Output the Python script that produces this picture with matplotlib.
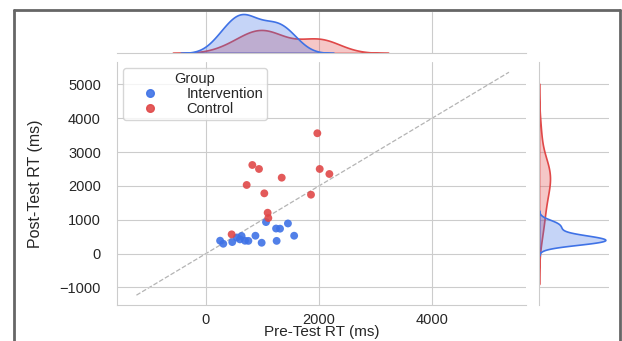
import matplotlib
matplotlib.use('Agg')
import matplotlib.pyplot as plt
from matplotlib.lines import Line2D
import seaborn as sns
import pandas as pd

# values
int_pre = [1062, 1450, 1240, 1310, 1560, 875, 630, 545, 600, 250, 306, 465, 690, 750, 985, 1250]
int_post = [930, 890, 740, 735, 527, 527, 520, 475, 420, 380, 290, 340, 379, 375, 320, 375]
ctl_pre = [1970, 820, 938, 2012, 2183, 1340, 720, 1032, 1858, 1091, 1103, 454]
ctl_post = [3556, 2618, 2500, 2500, 2352, 2243, 2027, 1780, 1740, 1207, 1050, 568]
groups = ['Intervention', 'Control']
colors = {'Intervention': '#3f72e6', 'Control': '#e04848'}
lims = [-1575, 5665]
ylims = [-1520, 5660]
diag = [-1230, 5360]

df = pd.DataFrame({
    'pre': int_pre + ctl_pre,
    'post': int_post + ctl_post,
    'Group': ['Intervention'] * len(int_pre) + ['Control'] * len(ctl_pre),
})

sns.set_style('whitegrid')
plt.rcParams['font.family'] = ['Liberation Sans', 'DejaVu Sans']

fig = plt.figure(figsize=(6.22, 3.41), dpi=100)
ax = fig.add_axes([0.188, 0.1056, 0.658, 0.7124])
ax_top = fig.add_axes([0.188, 0.8446, 0.658, 0.12], sharex=ax)
ax_right = fig.add_axes([0.8666, 0.1056, 0.112, 0.7124], sharey=ax)

sns.scatterplot(data=df, x='pre', y='post', hue='Group', hue_order=groups,
                palette=colors, s=32, alpha=0.9, edgecolor='none', ax=ax, legend=False)
ax.plot(diag, diag, linestyle='--', color='#b4b4b4', linewidth=0.9, zorder=0)

sns.kdeplot(data=df, x='pre', hue='Group', hue_order=groups, palette=colors,
            fill=True, alpha=0.3, linewidth=1.2, legend=False, ax=ax_top)
sns.kdeplot(data=df, y='post', hue='Group', hue_order=groups, palette=colors,
            fill=True, alpha=0.3, linewidth=1.2, legend=False, ax=ax_right)

ax.set_xlim(lims)
ax.set_ylim(ylims)
ax.set_xticks([0, 2000, 4000])
ax.set_yticks([-1000, 0, 1000, 2000, 3000, 4000, 5000])
ax.tick_params(labelsize=10.5)
ax.tick_params(axis='y', pad=8)
ax.tick_params(axis='x', pad=2)
ax.set_xlabel('Pre-Test RT (ms)', fontsize=11, labelpad=-1)
ax.set_ylabel('Post-Test RT (ms)', fontsize=11.5, labelpad=12)
sns.despine(ax=ax)

for a in (ax_top, ax_right):
    a.set_xlabel('')
    a.set_ylabel('')
    a.tick_params(labelbottom=False, labelleft=False, length=0)
ax_top.yaxis.grid(False)
ax_right.xaxis.grid(False)
sns.despine(ax=ax_top, left=True)
sns.despine(ax=ax_right, bottom=True)

handles = [Line2D([], [], marker='o', linestyle='', color=colors[g], markersize=5.5, alpha=0.9)
           for g in groups]
ax.legend(handles, groups, title='Group', loc='upper left', fontsize=10.5,
          title_fontsize=10.5, frameon=True, borderaxespad=0.4, labelspacing=0.1,
          handlelength=3.2, handletextpad=0.9, borderpad=0.25)

# dark frame around the screenshot
for xs, ys in (([14 / 622, 14 / 622], [0, 1 - 10 / 341]),
               ([14 / 622, 620 / 622], [1 - 10 / 341, 1 - 10 / 341]),
               ([620 / 622, 620 / 622], [0, 1 - 10 / 341])):
    fig.add_artist(Line2D(xs, ys, color='#666666', linewidth=2, transform=fig.transFigure))

fig.savefig('out.png', dpi=100)
